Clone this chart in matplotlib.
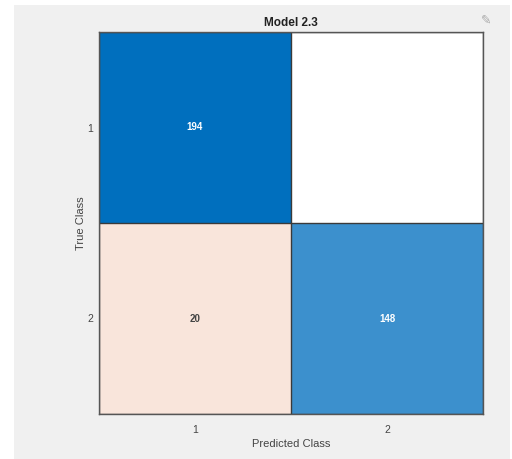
"""
Confusion chart for Model 2.3 (MATLAB style)
"""

import numpy as np
import matplotlib
matplotlib.use('Agg')
import matplotlib.pyplot as plt
from matplotlib.colors import LinearSegmentedColormap
from matplotlib.patches import Rectangle

plt.rcParams['font.family'] = ['Liberation Sans', 'DejaVu Sans']

###############################################################################

classes = ['1', '2']
counts = [[194, 0],
          [20, 148]]
title = 'Model 2.3'
x_label = 'Predicted Class'
y_label = 'True Class'

###############################################################################

def main():
    """Draw the confusion chart and save it"""
    cm = np.array(counts, dtype=float)
    n = len(classes)
    peak = cm.max()

    diag_map = LinearSegmentedColormap.from_list('diag', ['#ffffff', '#006fbe'])
    off_map = LinearSegmentedColormap.from_list(
        'off', [(0.0, '#ffffff'), (0.1, '#fae6dc'), (1.0, '#d9531e')])

    rgb = np.zeros((n, n, 3))
    for row in range(n):
        for col in range(n):
            frac = cm[row, col] / peak
            cmap = diag_map if row == col else off_map
            rgb[row, col] = cmap(frac)[:3]

    fig = plt.figure(figsize=(5.12, 4.59), dpi=100)
    fig.patch.set_facecolor('white')
    # grey MATLAB figure panel
    fig.patches.append(Rectangle((14 / 512, 0.0), 496 / 512, 454 / 459,
                                 transform=fig.transFigure, facecolor='#f0f0f0',
                                 edgecolor='none', zorder=-10))

    axes = fig.add_axes([99 / 512, 45 / 459, 384 / 512, 382 / 459])
    axes.set_zorder(5)
    axes.imshow(rgb, aspect='auto', interpolation='nearest',
                extent=(-0.5, n - 0.5, n - 0.5, -0.5))
    axes.set_xlim(-0.5, n - 0.5)
    axes.set_ylim(n - 0.5, -0.5)

    for pos in np.arange(-0.5, n, 1.0):
        axes.axvline(pos, color='#3a3a3a', linewidth=1.0)
        axes.axhline(pos, color='#3a3a3a', linewidth=1.0)

    for row in range(n):
        for col in range(n):
            if cm[row, col] == 0:
                continue
            frac = cm[row, col] / peak
            color = 'white' if frac > 0.4 else '#444444'
            axes.text(col, row, '{:d}'.format(int(cm[row, col])), ha='center',
                      va='center', fontsize=7, fontweight='bold', color=color)

    axes.set_xticks(range(n))
    axes.set_xticklabels(classes)
    axes.set_yticks(range(n))
    axes.set_yticklabels(classes)
    axes.tick_params(axis='x', length=0, labelsize=7.5, colors='#444444', pad=8)
    axes.tick_params(axis='y', length=0, labelsize=7.5, colors='#444444', pad=4)
    for spine in axes.spines.values():
        spine.set_color('#555555')
        spine.set_linewidth(1.0)

    axes.set_title(title, fontsize=8.5, fontweight='bold', color='#222222', pad=4)
    axes.set_xlabel(x_label, fontsize=8, color='#444444', labelpad=3)
    axes.set_ylabel(y_label, fontsize=8, color='#444444', labelpad=1)

    fig.text(486 / 512, 1 - 20 / 459, '\u270e', fontsize=9, color='#aaaaaa',
             ha='center', va='center', family='DejaVu Sans')

    fig.savefig('out.png', dpi=100, facecolor=fig.get_facecolor())

###############################################################################

if __name__ == '__main__':
    main()
